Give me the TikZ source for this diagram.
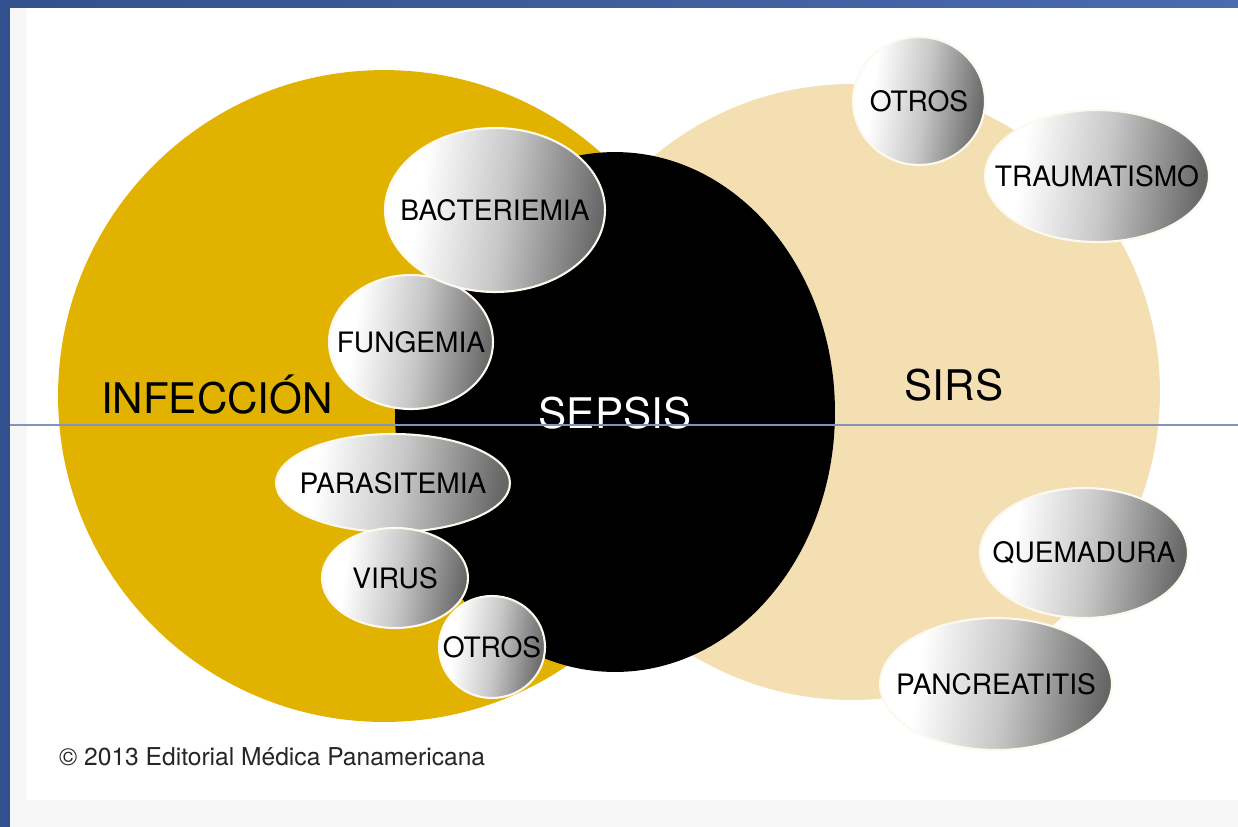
\documentclass[tikz,border=0pt]{standalone}
\usepackage{fontspec}
\setmainfont{TeX Gyre Heros}
\usepackage{tikz}
\usetikzlibrary{positioning,shapes.geometric}
\definecolor{coro}{HTML}{E1B300}
\definecolor{cbeige}{HTML}{F3DFB1}
\definecolor{cazulA}{HTML}{33508E}
\definecolor{cazulB}{HTML}{4A6BAD}
\definecolor{clinea}{HTML}{8494B8}
\definecolor{cfondo}{HTML}{F7F7F7}
\pgfdeclarehorizontalshading{bola}{100bp}{color(0bp)=(white); color(32bp)=(white);
  color(52bp)=(black!22); color(75bp)=(black!60); color(100bp)=(black!60)}
\tikzset{
  circulo/.style={circle, inner sep=0pt},
  burbuja/.style={ellipse, inner sep=0pt, shading=bola, shading angle=-8,
    draw=white!80!cbeige, line width=1.2pt},
  etq/.style={font=\fontsize{16}{16}\selectfont, text=black},
  grande/.style={font=\fontsize{24}{24}\selectfont, anchor=base},
}

\begin{document}
\begin{tikzpicture}[x=0.02cm, y=-0.02cm]
  \useasboundingbox (0,0) rectangle (1238,826);
  % fondo de la diapositiva
  \shade[left color=cazulA, right color=cazulB] (-5,-5) rectangle (1245,831);
  \fill[cfondo] (10,8) rectangle (1245,831);
  \fill[white] (27,8) rectangle (1245,800);

  \node[circulo, fill=cbeige, minimum size=12.32cm] (sirs) at (852,392) {};
  \node[circulo, fill=coro, minimum size=13.04cm] (infeccion) at (384,396) {};
  \node[ellipse, inner sep=0pt, fill=black, minimum width=8.8cm, minimum height=10.4cm] (sepsis) at (615,412) {};

  \node[grande] (tinf) at (217,413) {INFECCIÓN};
  \node[grande, text=white] (tsep) at (615,428) {SEPSIS};
  \node[grande] (tsirs) at (954,400) {SIRS};

  % causas de infeccion
  \node[burbuja, minimum width=3.28cm, minimum height=2.68cm] (fung) at (411,342) {};
  \node[burbuja, minimum width=4.4cm, minimum height=3.28cm] (bact) at (495,210) {};
  \node[burbuja, minimum width=4.68cm, minimum height=1.96cm] (para) at (393,483) {};
  \node[burbuja, minimum width=2.92cm, minimum height=2.0cm] (virus) at (395,578) {};
  \node[burbuja, minimum width=2.12cm, minimum height=2.04cm] (otrosI) at (492,647) {};
  \node[etq] (tbact) at (bact) {BACTERIEMIA};
  \node[etq] (tfung) at (fung) {FUNGEMIA};
  \node[etq] (tpara) at (para) {PARASITEMIA};
  \node[etq] (tvirus) at (virus) {VIRUS};
  \node[etq] (totrosI) at (otrosI) {OTROS};

  % causas de SIRS
  \node[burbuja, minimum width=2.64cm, minimum height=2.56cm] (otrosS) at (919,101) {};
  \node[burbuja, minimum width=4.48cm, minimum height=2.64cm] (trauma) at (1097,176) {};
  \node[burbuja, minimum width=4.16cm, minimum height=2.6cm] (quem) at (1084,553) {};
  \node[burbuja, minimum width=4.64cm, minimum height=2.64cm] (pancr) at (996,684) {};
  \node[etq] (totrosS) at (otrosS) {OTROS};
  \node[etq] (ttrauma) at (trauma) {TRAUMATISMO};
  \node[etq] (tquem) at (quem) {QUEMADURA};
  \node[etq] (tpancr) at (pancr) {PANCREATITIS};

  \node[anchor=base west, font=\fontsize{14}{14}\selectfont, text=black!85] (copy) at (53,765)
    {© 2013 Editorial Médica Panamericana};

  \coordinate (lineaA) at (10,425);
  \coordinate (lineaB) at (1245,425);
  \draw[clinea, line width=0.6pt] (lineaA) -- (lineaB);
\end{tikzpicture}
\end{document}
